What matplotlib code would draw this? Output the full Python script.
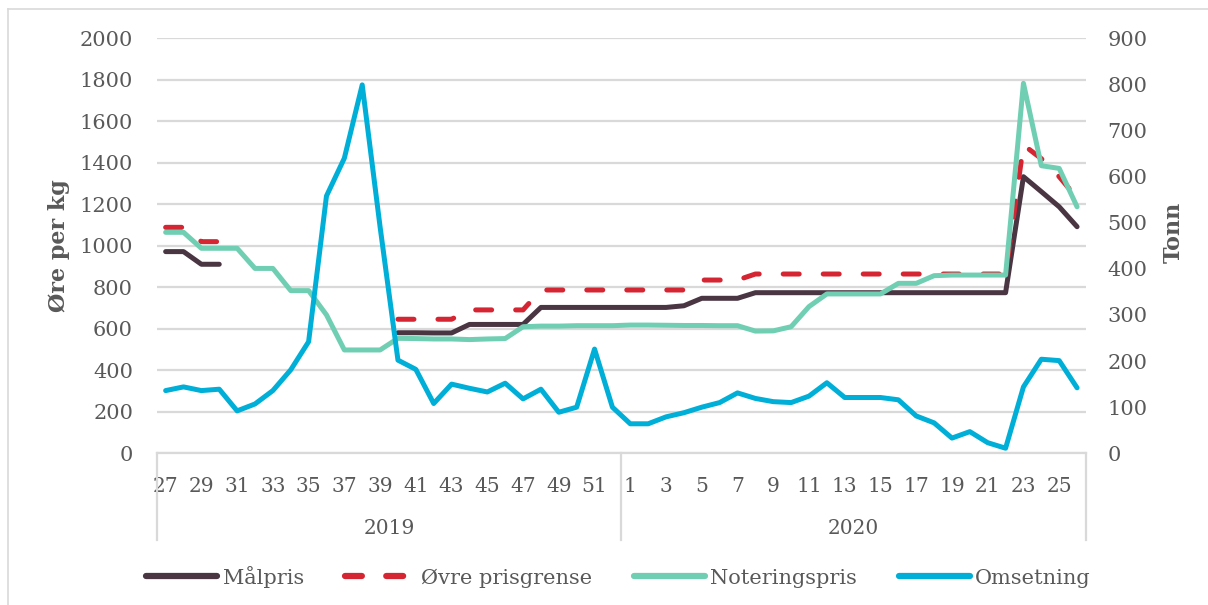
import numpy as np
import matplotlib
matplotlib.use("Agg")
import matplotlib.pyplot as plt
from matplotlib.lines import Line2D
import matplotlib.transforms as mtrans

nan = np.nan

# uke 27-52 i 2019, uke 1-26 i 2020
weeks = list(range(27, 53)) + list(range(1, 27))
years = ["2019", "2020"]

# øre per kg
malpris = [972, 972, 911, 911, nan, nan, nan, nan, nan, nan, nan, nan, nan,
           581, 581, 580, 580, 621, 621, 621, 621,
           703, 703, 703, 703, 703, 703, 703, 703, 711, 747, 747, 747,
           774, 774, 774, 774, 774, 774, 774, 774, 774, 774, 774, 774, 774, 774, 774,
           1333, 1261, 1188, 1092]
ovre = [1089, 1089, 1020, 1020, nan, nan, nan, nan, nan, nan, nan, nan, nan,
        646, 646, 646, 646, 691, 691, 691, 691,
        787, 787, 787, 787, 787, 787, 787, 787, 787, 835, 835, 835,
        864, 864, 864, 864, 864, 864, 864, 864, 864, 864, 864, 864, 864, 864, 864,
        1486, 1420, 1333, 1230]
notering = [1065, 1065, 988, 988, 988, 891, 891, 784, 784, 667, 498, 498, 498,
            554, 553, 551, 551, 548, 551, 553, 610, 613, 613, 615, 615, 615,
            618, 618, 617, 616, 616, 615, 615, 589, 590, 610, 707, 768, 768, 768,
            768, 819, 819, 856, 859, 859, 859, 859, 1783, 1386, 1373, 1188]
# tonn
omsetning = [136, 144, 136, 139, 92, 107, 136, 181, 242, 558, 640, 799, 491,
             202, 182, 108, 150, 141, 133, 152, 118, 139, 89, 100, 226, 100,
             64, 64, 79, 88, 100, 110, 131, 119, 112, 110, 124, 153, 121, 121,
             121, 116, 81, 66, 33, 47, 23, 11, 144, 204, 201, 142]

c_mal = "#4a3543"
c_ovre = "#d52532"
c_not = "#70cfb2"
c_oms = "#00afd7"
txt = "#595959"
grid = "#d9d9d9"

plt.rcParams["font.family"] = "DejaVu Serif"

fig = plt.figure(figsize=(12.08, 6.05), dpi=100)
ax = fig.add_axes([156.7/1208, 1-453.3/605, (1086-156.7)/1208, (453.3-38.3)/605])
ax2 = ax.twinx()

x = np.arange(len(weeks))
lw = 3.6
ax.plot(x, malpris, color=c_mal, lw=lw, solid_capstyle="round", solid_joinstyle="round")
ax.plot(x, ovre, color=c_ovre, lw=lw, dashes=(3.2, 4.8), dash_capstyle="round")
ax.plot(x, notering, color=c_not, lw=lw, solid_capstyle="round", solid_joinstyle="round")
ax2.plot(x, omsetning, color=c_oms, lw=lw, solid_capstyle="round", solid_joinstyle="round")

ax.set_xlim(-0.5, len(weeks)-0.5)
ax.set_ylim(0, 2000)
ax2.set_ylim(0, 900)
ax.set_yticks(np.arange(0, 2001, 200))
ax2.set_yticks(np.arange(0, 901, 100))
ax.grid(axis="y", color=grid, lw=1.6)
ax.set_axisbelow(True)

for a in (ax, ax2):
    for s in a.spines.values():
        s.set_visible(False)
ax.spines["bottom"].set_visible(True)
ax.spines["bottom"].set_color(grid)
ax.spines["bottom"].set_linewidth(1.6)

ax.set_xticks(x[::2])
ax.set_xticklabels([str(w) for w in weeks[::2]])
ax.tick_params(axis="x", length=0, pad=17, labelsize=14.5, labelcolor=txt)
ax.tick_params(axis="y", length=0, pad=17, labelsize=15, labelcolor=txt)
ax2.tick_params(axis="y", length=0, pad=15.5, labelsize=15, labelcolor=txt)

ax.set_ylabel("Øre per kg", fontsize=16, fontweight="bold", color=txt)
ax.yaxis.set_label_coords(-0.093, 0.5)
ax2.set_ylabel("Tonn", fontsize=16, fontweight="bold", color=txt)
ax2.yaxis.set_label_coords(1.083, 0.533)

# årsgrupper under aksen
tr = mtrans.blended_transform_factory(ax.transData, ax.transAxes)
for xs in (-0.5, 25.5, len(weeks)-0.5):
    ax.add_line(Line2D([xs, xs], [0, -0.209], transform=tr, color=grid, lw=1.6, clip_on=False))
ax.text(12.5, -0.18, years[0], transform=tr, ha="center", va="center", fontsize=14.5, color=txt)
ax.text(38.5, -0.18, years[1], transform=tr, ha="center", va="center", fontsize=14.5, color=txt)

handles = [
    Line2D([], [], color=c_mal, lw=4.5, solid_capstyle="round"),
    Line2D([], [], color=c_ovre, lw=4.5, dashes=(2.7, 3.9), dash_capstyle="round"),
    Line2D([], [], color=c_not, lw=4.5, solid_capstyle="round"),
    Line2D([], [], color=c_oms, lw=4.5, solid_capstyle="round"),
]
leg = fig.legend(handles, ["Målpris", "Øvre prisgrense", "Noteringspris", "Omsetning"],
                 loc="center", bbox_to_anchor=(0.512, 0.047), ncol=4, frameon=False,
                 fontsize=15, handlelength=3.4, handletextpad=0.25, columnspacing=2.0)
for t in leg.get_texts():
    t.set_color(txt)

# ramme rundt diagrammet
fig.add_artist(Line2D([8/1208, 1], [1-9/605, 1-9/605], color=grid, lw=1.2))
fig.add_artist(Line2D([8/1208, 8/1208], [0, 1-9/605], color=grid, lw=1.2))

fig.savefig("out.png", dpi=100)
